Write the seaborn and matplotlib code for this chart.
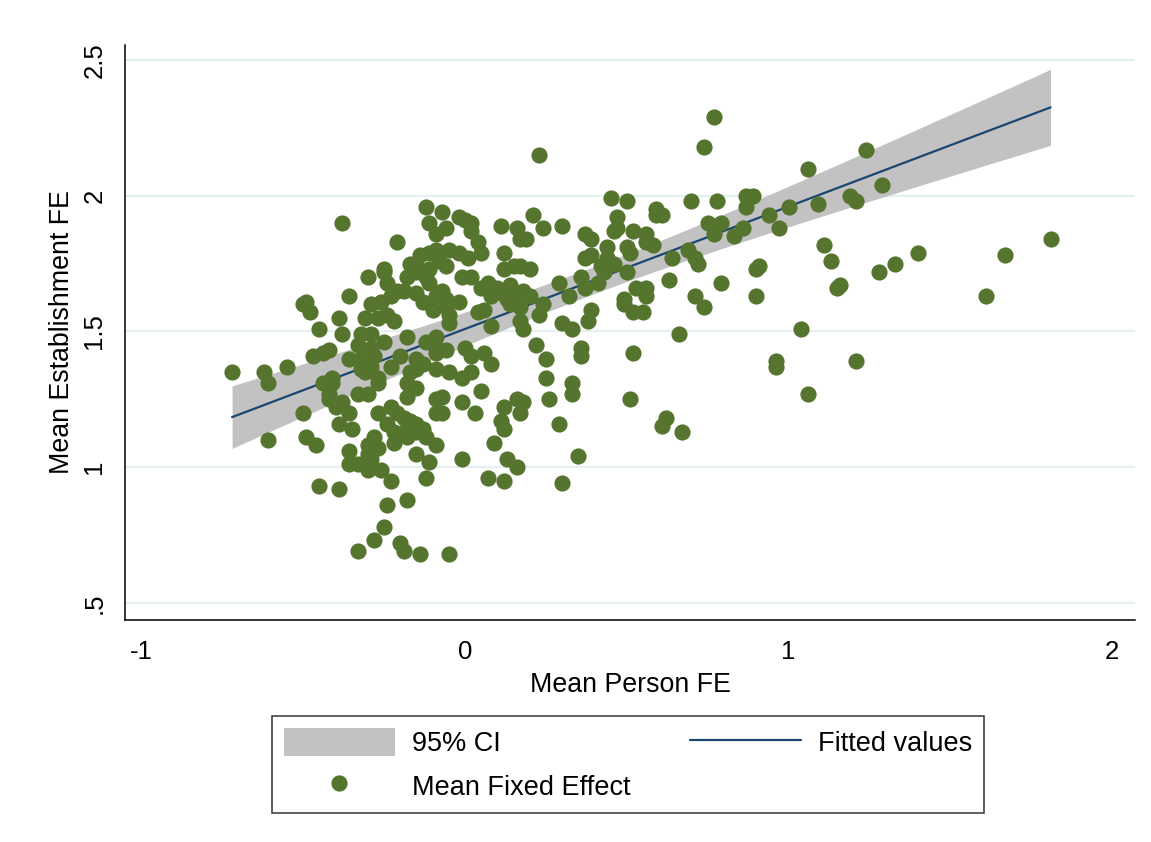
import numpy as np
import pandas as pd
import matplotlib
matplotlib.use("Agg")
import matplotlib.pyplot as plt
import seaborn as sns
from matplotlib.patches import Patch
from matplotlib.lines import Line2D

# Mean person fixed effect (x) and mean establishment fixed effect (y), one pair per unit
person_fe = [
    -0.72, -0.62, -0.61, -0.61, -0.55, -0.38, -0.21, -0.25, -0.17, -0.30,
    -0.25, -0.24, -0.18, -0.15, -0.12, -0.11, -0.50, -0.49, -0.48, -0.36,
    -0.39, -0.45, -0.38, -0.29, -0.26, -0.23, -0.21, -0.19, -0.15, -0.31,
    -0.27, -0.24, -0.22, -0.13, -0.10, -0.09, -0.32, -0.29, -0.33, -0.29,
    -0.25, -0.18, -0.12, -0.09, -0.47, -0.44, -0.42, -0.36, -0.32, -0.28,
    -0.29, -0.20, -0.15, -0.13, -0.09, -0.09, -0.32, -0.31, -0.27, -0.23,
    -0.17, -0.15, -0.09, -0.44, -0.41, -0.41, -0.27, -0.18, -0.15, -0.09,
    -0.42, -0.42, -0.33, -0.30, -0.18,
    -0.50, -0.40, -0.38, -0.36, -0.39, -0.35, -0.49, -0.46, -0.27, -0.23,
    -0.21, -0.19, -0.17, -0.15, -0.13, -0.24, -0.22, -0.19, -0.18, -0.15,
    -0.12, -0.22, -0.09, -0.09, -0.36, -0.30, -0.28, -0.27, -0.15, -0.36,
    -0.33, -0.30, -0.29, -0.26, -0.30, -0.11, -0.23, -0.12, -0.45, -0.39,
    -0.24, -0.18, -0.25, -0.33, -0.28, -0.20, -0.19, -0.14, -0.05,
    -0.12, -0.07, -0.11, -0.02, 0.00, 0.02, -0.06, -0.09, 0.02, 0.04,
    0.05, 0.11, 0.16, 0.17, 0.19, 0.21, 0.24, 0.30, 0.12, -0.14,
    -0.11, -0.09, -0.05, -0.02, 0.01, -0.15, -0.08, -0.06, -0.11, -0.01,
    0.02, 0.12, 0.15, 0.17, 0.20, 0.07, 0.05, 0.10, 0.14, 0.29,
    -0.07, -0.06, -0.02, 0.08, 0.11, 0.13, 0.16, 0.18, 0.20, 0.32,
    -0.06, -0.05, 0.14, 0.17, 0.24, 0.23, 0.04, 0.06, -0.05, 0.08,
    0.17, 0.18, 0.30, 0.33, -0.06, 0.00, 0.02, 0.06, 0.08, 0.22,
    0.25, -0.05, -0.01, 0.02, 0.25, 0.33,
    -0.07, -0.07, -0.01, 0.05, 0.03, 0.12, 0.11, 0.12, 0.16, 0.18,
    0.17, 0.26, 0.33, 0.29, 0.09, -0.01, 0.13, 0.16, 0.35, 0.07,
    0.12, 0.30, 0.23,
    0.77, 0.74, 0.45, 0.50, 0.59, 0.61, 0.59, 0.70, 0.78, 0.87,
    0.89, 0.87, 0.94, 1.00, 0.47, 0.75, 0.79, 0.77, 0.83, 0.86,
    0.97, 0.37, 0.39, 0.46, 0.47, 0.52, 0.56, 0.56, 0.58, 0.44,
    0.50, 0.51, 0.37, 0.39, 0.44, 0.46, 0.42, 0.43, 0.50, 0.64,
    0.69, 0.71, 0.72, 0.91, 0.90, 0.36, 0.37, 0.41, 0.63, 0.79,
    0.53, 0.56, 0.56, 0.71, 0.90, 0.49,
    0.39, 0.38, 0.49, 0.52, 0.55, 0.74, 0.66, 0.36, 0.36, 0.52,
    0.96, 0.96, 0.51, 0.62, 0.61, 0.67,
    1.24, 1.06, 1.29, 1.09, 1.19, 1.21, 1.11, 1.13, 1.16, 1.15,
    1.28, 1.33, 1.40, 1.67, 1.81, 1.61, 1.04, 1.21, 1.06,
]
estab_fe = [
    1.35, 1.35, 1.31, 1.10, 1.37, 1.90, 1.83, 1.73, 1.75, 1.70,
    1.72, 1.68, 1.70, 1.72, 1.70, 1.68, 1.60, 1.61, 1.57, 1.63,
    1.55, 1.51, 1.49, 1.60, 1.61, 1.63, 1.65, 1.65, 1.64, 1.55,
    1.55, 1.56, 1.54, 1.61, 1.58, 1.63, 1.49, 1.49, 1.45, 1.44,
    1.46, 1.48, 1.46, 1.48, 1.41, 1.42, 1.43, 1.40, 1.40, 1.41,
    1.37, 1.41, 1.40, 1.38, 1.44, 1.42, 1.36, 1.35, 1.33, 1.37,
    1.35, 1.36, 1.36, 1.31, 1.31, 1.33, 1.31, 1.31, 1.29, 1.25,
    1.27, 1.25, 1.27, 1.27, 1.26,
    1.20, 1.22, 1.24, 1.20, 1.16, 1.14, 1.11, 1.08, 1.20, 1.22,
    1.20, 1.18, 1.17, 1.16, 1.14, 1.16, 1.13, 1.13, 1.11, 1.13,
    1.11, 1.09, 1.20, 1.08, 1.06, 1.08, 1.11, 1.07, 1.05, 1.01,
    1.01, 0.99, 1.03, 0.99, 1.05, 1.02, 0.95, 0.96, 0.93, 0.92,
    0.86, 0.88, 0.78, 0.69, 0.73, 0.72, 0.69, 0.68, 0.68,
    1.96, 1.94, 1.90, 1.92, 1.91, 1.90, 1.88, 1.86, 1.87, 1.83,
    1.79, 1.89, 1.88, 1.84, 1.84, 1.93, 1.88, 1.89, 1.79, 1.78,
    1.79, 1.80, 1.80, 1.79, 1.77, 1.74, 1.76, 1.74, 1.73, 1.70,
    1.70, 1.73, 1.74, 1.74, 1.73, 1.68, 1.66, 1.66, 1.67, 1.68,
    1.65, 1.62, 1.61, 1.63, 1.64, 1.62, 1.63, 1.65, 1.63, 1.63,
    1.59, 1.56, 1.60, 1.59, 1.60, 1.56, 1.57, 1.58, 1.53, 1.52,
    1.54, 1.51, 1.53, 1.51, 1.43, 1.44, 1.41, 1.42, 1.38, 1.45,
    1.40, 1.35, 1.33, 1.35, 1.33, 1.31,
    1.26, 1.20, 1.24, 1.28, 1.20, 1.22, 1.17, 1.14, 1.25, 1.24,
    1.20, 1.25, 1.27, 1.16, 1.09, 1.03, 1.03, 1.00, 1.04, 0.96,
    0.95, 0.94, 2.15,
    2.29, 2.18, 1.99, 1.98, 1.95, 1.93, 1.93, 1.98, 1.98, 2.00,
    2.00, 1.96, 1.93, 1.96, 1.92, 1.90, 1.90, 1.86, 1.85, 1.88,
    1.88, 1.86, 1.84, 1.87, 1.88, 1.87, 1.86, 1.83, 1.82, 1.81,
    1.81, 1.79, 1.77, 1.78, 1.77, 1.75, 1.74, 1.72, 1.72, 1.77,
    1.80, 1.77, 1.75, 1.74, 1.73, 1.70, 1.66, 1.68, 1.69, 1.68,
    1.66, 1.66, 1.63, 1.63, 1.63, 1.62,
    1.58, 1.54, 1.60, 1.57, 1.57, 1.59, 1.49, 1.44, 1.41, 1.42,
    1.39, 1.37, 1.25, 1.18, 1.15, 1.13,
    2.17, 2.10, 2.04, 1.97, 2.00, 1.98, 1.82, 1.76, 1.67, 1.66,
    1.72, 1.75, 1.79, 1.78, 1.84, 1.63, 1.51, 1.39, 1.27,
]

# Weighted linear fit of establishment FE on person FE
fit_intercept = 1.509
fit_slope = 0.451
fit_center = 0.40        # weighted mean of person FE
fit_se_center = 0.0255   # s.e. of the prediction at the weighted mean
fit_se_slope = 0.0473    # s.e. of the slope

x_ticks = [-1, 0, 1, 2]
x_tick_labels = ["-1", "0", "1", "2"]
y_ticks = [0.5, 1.0, 1.5, 2.0, 2.5]
y_tick_labels = [".5", "1", "1.5", "2", "2.5"]

GREEN = "#55752F"
NAVY = "#1A476F"
BAND = "#C2C2C2"
GRID = "#E6EFF1"

sns.set_style("white")
plt.rcParams["font.family"] = ["Liberation Sans", "DejaVu Sans"]
for key in ("text.color", "axes.labelcolor", "xtick.color", "ytick.color"):
    plt.rcParams[key] = "black"
FS_TITLE = 19.3
FS_TICK = 18.5
FS_LEG = 19.5

df = pd.DataFrame({"person": person_fe, "estab": estab_fe})

# Fitted values and 95% CI over the observed range of person FE
grid_x = np.linspace(df["person"].min(), df["person"].max(), 300)
fit = fit_intercept + fit_slope * grid_x
se = np.sqrt(fit_se_center ** 2 + (fit_se_slope * (grid_x - fit_center)) ** 2)
half = 1.96 * se
fit_df = pd.DataFrame({"person": grid_x, "fit": fit})

fig = plt.figure(figsize=(11.51, 8.42), dpi=100)
ax = fig.add_axes([125 / 1151, 1 - 620 / 842, 1010 / 1151, 575 / 842])

ax.fill_between(grid_x, fit - half, fit + half, color=BAND, lw=0, zorder=1)
sns.lineplot(data=fit_df, x="person", y="fit", color=NAVY, lw=1.6, ax=ax, zorder=2)
sns.scatterplot(data=df, x="person", y="estab", color=GREEN, s=136,
                linewidth=0, ax=ax, zorder=3)

ax.set_xlim(-1.051, 2.071)
ax.set_ylim(0.437, 2.555)
ax.set_xticks(x_ticks)
ax.set_xticklabels(x_tick_labels, fontsize=FS_TICK)
ax.set_yticks(y_ticks)
ax.set_yticklabels(y_tick_labels, fontsize=FS_TICK, rotation=90, va="center")
ax.tick_params(axis="both", direction="out", length=7.5, width=1.1, color="black")
ax.tick_params(axis="x", pad=7)
ax.tick_params(axis="y", pad=5.9)
ax.yaxis.grid(True, color=GRID, lw=1.6)
ax.xaxis.grid(False)
ax.set_axisbelow(True)
for side in ("top", "right"):
    ax.spines[side].set_visible(False)
for side in ("left", "bottom"):
    ax.spines[side].set_color("black")
    ax.spines[side].set_linewidth(1.1)

ax.set_xlabel("Mean Person FE", fontsize=FS_TITLE, labelpad=6)
ax.set_ylabel("Mean Establishment FE", fontsize=FS_TITLE, labelpad=5)

handles = [
    Patch(facecolor=BAND, edgecolor="none", label="95% CI"),
    Line2D([], [], marker="o", ls="none", color=GREEN, markersize=11.7,
           markeredgewidth=0, label="Mean Fixed Effect"),
    Line2D([], [], color=NAVY, lw=1.6, label="Fitted values"),
]
leg = fig.legend(handles=handles, ncol=2, loc="upper center",
                 bbox_to_anchor=(0.5456, 0.1496), frameon=True, fancybox=False,
                 edgecolor="black", fontsize=FS_LEG, handlelength=4.1,
                 handleheight=1.18, handletextpad=0.63, columnspacing=2.2,
                 borderpad=0.45, labelspacing=0.55, borderaxespad=0)
leg.get_frame().set_linewidth(1.1)

fig.savefig("out.png", dpi=100, facecolor="white")
